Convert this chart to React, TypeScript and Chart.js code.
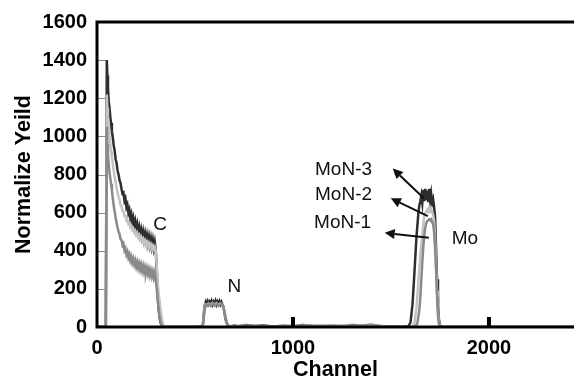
import React, { useEffect, useRef } from "react";
import { Chart, registerables } from "chart.js";

Chart.register(...registerables);

// Channel / normalized yield pairs
const mon3: [number, number][] = [
  [0, 0], [45, 0], [50, 1400], [53, 1320], [56, 1260], [60, 1180], [64, 1150], [68, 1100], [72, 1070], [76, 1025],
  [80, 1000], [85, 955], [90, 925], [95, 880], [100, 860], [105, 820], [110, 800], [115, 770], [120, 755], [125, 725],
  [130, 700], [135, 705], [140, 662], [145, 675], [150, 628], [155, 642], [160, 598], [165, 615], [170, 572], [175, 592],
  [180, 550], [185, 572], [190, 530], [195, 554], [200, 512], [205, 538], [210, 497], [215, 524], [220, 484], [225, 511],
  [230, 472], [235, 500], [240, 460], [245, 490], [250, 450], [255, 480], [260, 440], [265, 472], [270, 432], [275, 464],
  [280, 424], [285, 456], [290, 414], [295, 444], [300, 400], [305, 300], [310, 160], [315, 90], [320, 45], [325, 20],
  [330, 10], [335, 4], [340, 0], [400, 0], [500, 0], [530, 2], [540, 10], [545, 70], [550, 115], [555, 132],
  [560, 118], [565, 134], [570, 120], [575, 132], [580, 119], [585, 135], [590, 118], [595, 132], [600, 120], [605, 136],
  [610, 118], [615, 132], [620, 119], [625, 134], [630, 118], [635, 130], [640, 116], [645, 108], [650, 80], [655, 45],
  [660, 25], [665, 12], [670, 6], [680, 3], [700, 8], [720, 4], [760, 10], [800, 5], [850, 8], [900, 3],
  [950, 6], [1000, 4], [1050, 10], [1100, 5], [1150, 3], [1200, 6], [1250, 2], [1300, 10], [1350, 8], [1400, 12],
  [1450, 4], [1500, 2], [1550, 0], [1580, 3], [1590, 5], [1600, 25], [1610, 120], [1620, 290], [1630, 470], [1640, 600],
  [1645, 640], [1650, 660], [1655, 690], [1660, 650], [1665, 720], [1670, 660], [1675, 725], [1680, 665], [1685, 715], [1690, 655],
  [1695, 725], [1700, 665], [1705, 700], [1710, 650], [1715, 670], [1720, 630], [1725, 580], [1730, 420], [1735, 250], [1740, 110],
  [1745, 40], [1750, 10], [1760, 0], [1900, 0], [2200, 0], [2440, 0],
];

const mon2: [number, number][] = [
  [0, 0], [45, 0], [50, 1220], [53, 1150], [56, 1100], [60, 1040], [64, 1000], [68, 960], [72, 920], [76, 890],
  [80, 860], [85, 820], [90, 790], [95, 760], [100, 730], [105, 705], [110, 680], [115, 668], [120, 640], [125, 634],
  [130, 608], [135, 604], [140, 582], [145, 582], [150, 560], [155, 562], [160, 540], [165, 545], [170, 524], [175, 530],
  [180, 509], [185, 516], [190, 496], [195, 504], [200, 484], [205, 493], [210, 473], [215, 482], [220, 462], [225, 472],
  [230, 453], [235, 463], [240, 444], [245, 455], [250, 436], [255, 447], [260, 428], [265, 440], [270, 421], [275, 433],
  [280, 414], [285, 426], [290, 408], [295, 419], [300, 395], [305, 320], [310, 230], [315, 170], [320, 130], [325, 90],
  [330, 50], [335, 20], [340, 5], [350, 0], [500, 0], [535, 2], [542, 20], [548, 90], [553, 118], [560, 114],
  [570, 124], [580, 116], [590, 126], [600, 117], [610, 125], [620, 116], [630, 124], [640, 114], [648, 95], [655, 55],
  [662, 25], [670, 8], [680, 2], [750, 6], [900, 2], [1050, 7], [1300, 6], [1400, 8], [1550, 0], [1610, 0],
  [1620, 20], [1630, 100], [1640, 240], [1650, 380], [1660, 480], [1665, 540], [1670, 580], [1675, 600], [1680, 605], [1685, 615],
  [1690, 605], [1695, 625], [1700, 610], [1705, 620], [1710, 600], [1715, 590], [1720, 560], [1725, 480], [1730, 340], [1735, 190],
  [1740, 80], [1745, 25], [1750, 5], [1760, 0], [2440, 0],
];

const mon1: [number, number][] = [
  [0, 0], [45, 0], [50, 1050], [53, 960], [56, 900], [60, 850], [64, 810], [68, 780], [72, 750], [76, 715],
  [80, 680], [85, 640], [90, 605], [95, 575], [100, 545], [105, 522], [110, 500], [115, 488], [120, 462], [125, 456],
  [130, 430], [135, 438], [140, 402], [145, 412], [150, 380], [155, 394], [160, 364], [165, 380], [170, 350], [175, 368],
  [180, 338], [185, 357], [190, 328], [195, 348], [200, 318], [205, 340], [210, 310], [215, 332], [220, 302], [225, 326],
  [230, 296], [235, 320], [240, 290], [245, 314], [250, 284], [255, 308], [260, 278], [265, 302], [270, 272], [275, 296],
  [280, 266], [285, 290], [290, 260], [295, 284], [300, 245], [305, 200], [310, 140], [315, 90], [320, 50], [325, 25],
  [330, 10], [335, 4], [340, 0], [500, 0], [537, 2], [543, 25], [549, 95], [555, 115], [562, 112], [572, 120],
  [582, 113], [592, 122], [602, 114], [612, 121], [622, 113], [632, 120], [642, 112], [649, 85], [656, 50], [663, 20],
  [671, 6], [680, 0], [780, 5], [1000, 3], [1100, 6], [1350, 5], [1550, 0], [1625, 0], [1635, 20], [1645, 90],
  [1650, 160], [1655, 250], [1660, 340], [1665, 420], [1670, 480], [1675, 520], [1680, 545], [1685, 555], [1690, 560], [1695, 565],
  [1700, 560], [1705, 565], [1710, 550], [1715, 540], [1720, 500], [1725, 420], [1730, 300], [1735, 160], [1740, 60], [1745, 15],
  [1750, 0], [2440, 0],
];

const seriesNames = ["MoN-1", "MoN-2", "MoN-3"];
const seriesColors = ["#8a8a8a", "#c2c2c2", "#2e2e2e"];
const yTicks = [0, 200, 400, 600, 800, 1000, 1200, 1400, 1600];
const xTicks = [0, 1000, 2000];
const xMax = 2434;
const yMax = 1600;

// Text annotations: [label, channel, yield]
const labels: [string, number, number][] = [
  ["C", 322, 535],
  ["N", 701, 213],
  ["Mo", 1877, 462],
  ["MoN-3", 1258, 826],
  ["MoN-2", 1258, 696],
  ["MoN-1", 1253, 545],
];
// Arrows: [headChannel, headYield, tailChannel, tailYield]
const arrows: [number, number, number, number][] = [
  [1509, 831, 1668, 675],
  [1499, 675, 1688, 582],
  [1468, 494, 1693, 468],
];

const FONT = "'Liberation Sans', Arial, sans-serif";

const framePlugin = {
  id: "frame",
  afterDraw(chart: any) {
    const ctx = chart.ctx;
    const xs = chart.scales.x;
    const ys = chart.scales.y;
    const { left, top, bottom, right } = chart.chartArea;
    ctx.save();
    ctx.fillStyle = "#111";
    ctx.font = `19px ${FONT}`;
    ctx.textAlign = "center";
    ctx.textBaseline = "middle";
    labels.forEach(([t, cx, cy]) => {
      ctx.fillText(t, xs.getPixelForValue(cx), ys.getPixelForValue(cy));
    });
    ctx.strokeStyle = "#111";
    ctx.fillStyle = "#111";
    ctx.lineWidth = 2;
    arrows.forEach(([hx, hy, tx, ty]) => {
      const x1 = xs.getPixelForValue(hx);
      const y1 = ys.getPixelForValue(hy);
      const x2 = xs.getPixelForValue(tx);
      const y2 = ys.getPixelForValue(ty);
      const ang = Math.atan2(y1 - y2, x1 - x2);
      const L = 10;
      const W = 5;
      const bx = x1 - L * Math.cos(ang);
      const by = y1 - L * Math.sin(ang);
      ctx.beginPath();
      ctx.moveTo(x2, y2);
      ctx.lineTo(bx, by);
      ctx.stroke();
      ctx.beginPath();
      ctx.moveTo(x1, y1);
      ctx.lineTo(bx + W * Math.sin(ang), by - W * Math.cos(ang));
      ctx.lineTo(bx - W * Math.sin(ang), by + W * Math.cos(ang));
      ctx.closePath();
      ctx.fill();
    });
    ctx.strokeStyle = "#8a8a8a";
    ctx.lineWidth = 1;
    yTicks.forEach((v) => {
      if (v === 0 || v === yMax) return;
      const y = Math.round(ys.getPixelForValue(v)) + 0.5;
      ctx.beginPath();
      ctx.moveTo(left + 1, y);
      ctx.lineTo(left + 9, y);
      ctx.stroke();
    });
    ctx.fillStyle = "#000";
    xTicks.forEach((v) => {
      if (v === 0) return;
      const x = xs.getPixelForValue(v);
      ctx.fillRect(x - 2, bottom - 10, 4, 10);
    });
    ctx.strokeStyle = "#000";
    ctx.lineWidth = 3;
    ctx.beginPath();
    ctx.moveTo(left, bottom);
    ctx.lineTo(left, top);
    ctx.lineTo(right, top);
    ctx.moveTo(left - 1.5, bottom);
    ctx.lineTo(right, bottom);
    ctx.stroke();
    ctx.restore();
  },
};

export default function App() {
  const ref = useRef<HTMLCanvasElement | null>(null);
  useEffect(() => {
    if (!ref.current) return;
    const series = [mon1, mon2, mon3];
    const chart = new Chart(ref.current, {
      type: "line",
      data: {
        datasets: series.map((s, i) => ({
          label: seriesNames[i],
          data: s.map(([x, y]) => ({ x, y })),
          borderColor: seriesColors[i],
          borderWidth: 2.5,
          pointRadius: 0,
          tension: 0,
          fill: false,
        })),
      },
      options: {
        animation: false,
        responsive: false,
        devicePixelRatio: 1,
        layout: { padding: { top: 19, right: 0, left: 0, bottom: 0 } },
        plugins: { legend: { display: false }, tooltip: { enabled: false } },
        scales: {
          x: {
            type: "linear",
            min: 0,
            max: xMax,
            grid: { display: false, drawTicks: false },
            border: { display: false },
            afterBuildTicks: (s: any) => {
              s.ticks = xTicks.map((v) => ({ value: v }));
            },
            afterFit: (s: any) => {
              s.height = 55;
            },
            ticks: {
              color: "#000",
              padding: 9,
              maxRotation: 0,
              callback: (v: any) => String(v),
              font: { family: FONT, size: 20, weight: "bold" },
            },
            title: {
              display: true,
              text: "Channel",
              color: "#000",
              padding: { top: 0, bottom: 1 },
              font: { family: FONT, size: 21.5, weight: "bold", lineHeight: 1 },
            },
          },
          y: {
            min: 0,
            max: yMax,
            grid: { display: false, drawTicks: false },
            border: { display: false },
            afterBuildTicks: (s: any) => {
              s.ticks = yTicks.map((v) => ({ value: v }));
            },
            afterFit: (s: any) => {
              s.width = 97;
            },
            ticks: {
              color: "#000",
              padding: 10,
              callback: (v: any) => String(v),
              font: { family: FONT, size: 20, weight: "bold" },
            },
            title: {
              display: true,
              text: "Normalize Yeild",
              color: "#000",
              padding: { top: 11, bottom: 0 },
              font: { family: FONT, size: 21.5, weight: "bold" },
            },
          },
        },
      },
      plugins: [framePlugin],
    } as any);
    return () => chart.destroy();
  }, []);
  return (
    <div style={{ position: "absolute", left: 0, top: 0, width: 574, height: 382, background: "#fff" }}>
      <canvas ref={ref} width={574} height={382} style={{ width: 574, height: 382, display: "block" }} />
    </div>
  );
}
